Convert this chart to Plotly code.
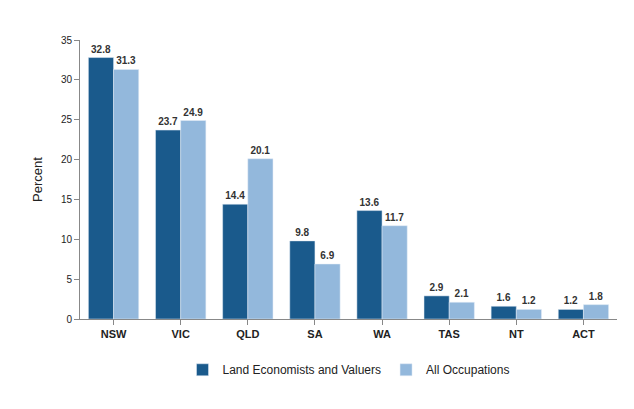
import plotly.graph_objects as go

states = ["NSW", "VIC", "QLD", "SA", "WA", "TAS", "NT", "ACT"]
land_valuers = [32.8, 23.7, 14.4, 9.8, 13.6, 2.9, 1.6, 1.2]
all_occupations = [31.3, 24.9, 20.1, 6.9, 11.7, 2.1, 1.2, 1.8]

fig = go.Figure()
fig.add_trace(go.Bar(
    x=states, y=land_valuers, name="Land Economists and Valuers",
    marker_color="#1a5a8c", text=[f"<b>{v:.1f}</b>" for v in land_valuers],
    textposition="outside", textfont=dict(size=10, color="#333"),
))
fig.add_trace(go.Bar(
    x=states, y=all_occupations, name="All Occupations",
    marker_color="#93b8dc", text=[f"<b>{v:.1f}</b>" for v in all_occupations],
    textposition="outside", textfont=dict(size=10, color="#333"),
))

fig.update_layout(
    width=634, height=409,
    barmode="group", bargap=0.25, bargroupgap=0,
    plot_bgcolor="white", paper_bgcolor="white",
    font=dict(family="Arial, Liberation Sans", size=11, color="#222"),
    margin=dict(l=72, r=25, t=32, b=98),
    uniformtext=dict(mode="show", minsize=9),
    legend=dict(orientation="h", x=0.5, xanchor="center", y=-0.13, yanchor="top",
                font=dict(size=12)),
    xaxis=dict(showline=True, linecolor="#888", ticks="outside", tickcolor="#888",
               tickfont=dict(size=11, color="#222"),
               ticktext=[f"<b>{s}</b>" for s in states], tickvals=states),
    yaxis=dict(title=dict(text="Percent", font=dict(size=13)), range=[0, 35],
               dtick=5, showgrid=False, showline=True, linecolor="#888",
               ticks="outside", tickcolor="#888", tickfont=dict(size=10)),
)
fig.update_traces(cliponaxis=False)

fig.write_html("out.html")
